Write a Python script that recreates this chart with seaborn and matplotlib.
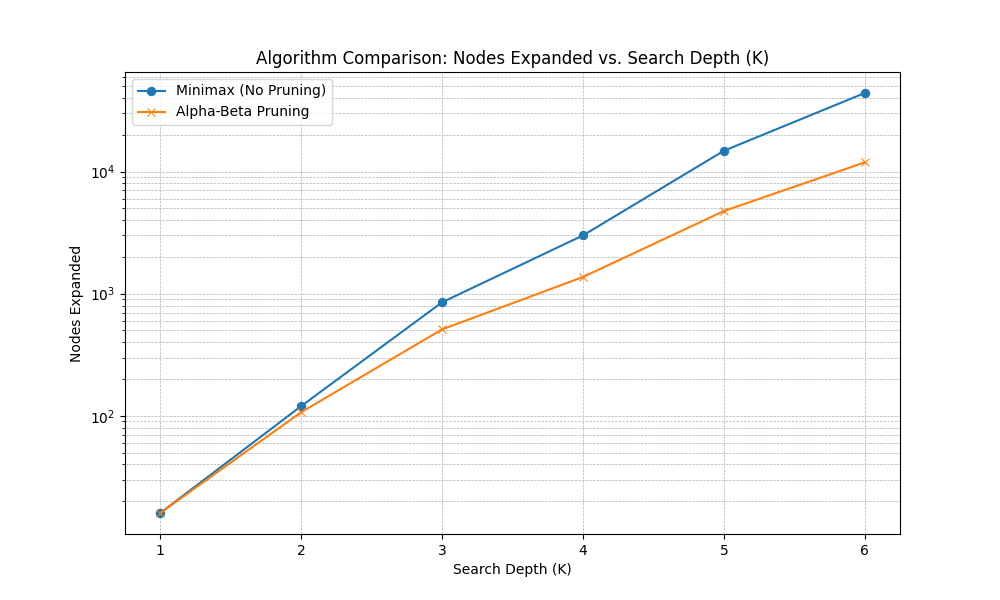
import matplotlib
matplotlib.use("Agg")
import matplotlib.pyplot as plt
import seaborn as sns
import pandas as pd

depth = [1, 2, 3, 4, 5, 6]
minimax = [16, 120, 850, 3000, 14800, 44000]
alphabeta = [16, 107, 510, 1370, 4750, 11900]

fig, ax = plt.subplots(figsize=(10, 6), dpi=100)
sns.lineplot(x=depth, y=minimax, marker='o', markeredgecolor='#1f77b4', color='#1f77b4', label='Minimax (No Pruning)', ax=ax)
sns.lineplot(x=depth, y=alphabeta, marker='x', markeredgecolor='#ff7f0e', color='#ff7f0e', label='Alpha-Beta Pruning', ax=ax)
ax.set_yscale('log')
ax.set_xticks(depth)
ax.set_title('Algorithm Comparison: Nodes Expanded vs. Search Depth (K)')
ax.set_xlabel('Search Depth (K)')
ax.set_ylabel('Nodes Expanded')
ax.grid(True, which='both', linestyle='--', linewidth=0.5)
ax.legend(loc='upper left')
fig.savefig('out.png')
